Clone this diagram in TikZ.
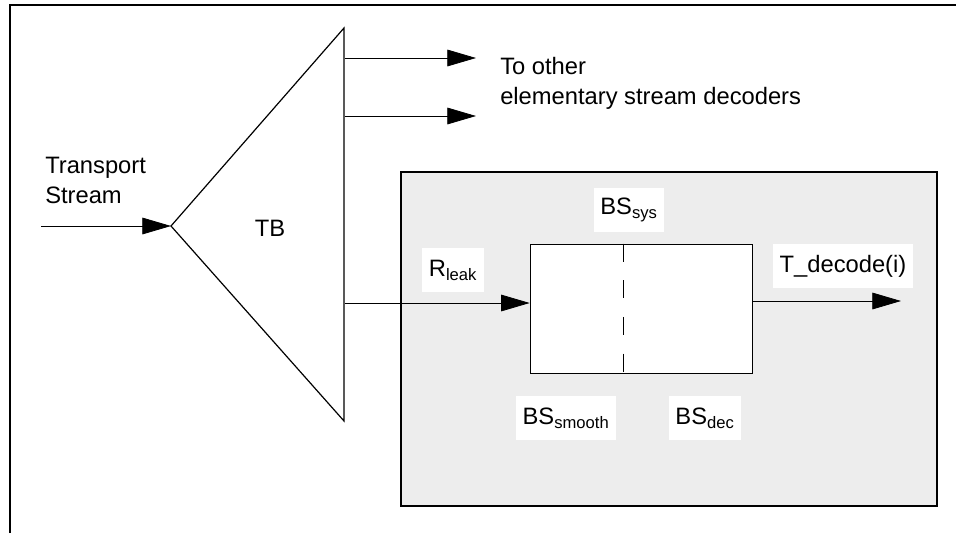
\documentclass[tikz,border=0pt]{standalone}
\usepackage{fontspec}
\setmainfont{Liberation Sans}
\usetikzlibrary{arrows.meta}
\begin{document}
\begin{tikzpicture}[>={Triangle[length=21.5pt,width=12.5pt]},x=0.75pt,y=-0.75pt,
		lbl/.style={font=\fontsize{17.8}{22.5}\selectfont,inner sep=0pt},
		tag/.style={lbl,fill=white,minimum height=33pt,inner xsep=5pt},
		flow/.style={->,line width=0.6pt}]
		\useasboundingbox (0,0) rectangle (956,533);
		\draw[line width=1.2pt] (10,533) -- (10,5) -- (956,5);
		% TB
		\coordinate (tip) at (171,226);
		\coordinate (top) at (344,28);
		\coordinate (bot) at (344,421);
		\draw[line width=0.9pt,line join=miter] (tip) -- (top) -- (bot) -- cycle;
		\node[lbl] (tb) at (270,228) {TB};
		\node[lbl,anchor=west,align=left] (ts) at (45,180) {Transport\\Stream};
		\coordinate (in) at (41,226);
		\draw[flow] (in) -- (tip);
		% other decoders
		\coordinate (o1) at (345,58);
		\coordinate (o2) at (345,116);
		\coordinate (e1) at (476,58);
		\coordinate (e2) at (476,116);
		\draw[flow] (o1) -- (e1);
		\draw[flow] (o2) -- (e2);
		\node[lbl,anchor=west,align=left] (other) at (500,83) {To other\\elementary stream decoders};
		% decoder
		\draw[line width=1.2pt,fill=black!7] (401,172) rectangle (937,506);
		\node[draw,fill=white,line width=1.2pt,minimum width=166.5pt,minimum height=97pt] (buf) at (641.5,309) {};
		\coordinate (mid) at (623,0);
		\draw[line width=0.6pt,dash pattern=on 13.5pt off 14pt] (buf.north -| mid) -- (buf.south -| mid);
		\coordinate (split) at (345,303);
		\draw[flow] (split) -- (split -| buf.west);
		\coordinate (out) at (901,301);
		\draw[flow] (out -| buf.east) -- (out);
		\node[tag] (rleak) at (453,270) {R\textsubscript{leak}};
		\node[tag] (bssys) at (629,210) {BS\textsubscript{sys}};
		\node[tag] (tdec) at (843,266) {T\_decode(i)};
		\node[tag] (bssmooth) at (566,418) {BS\textsubscript{smooth}};
		\node[tag] (bsdec) at (705,418) {BS\textsubscript{dec}};
\end{tikzpicture}
\end{document}
